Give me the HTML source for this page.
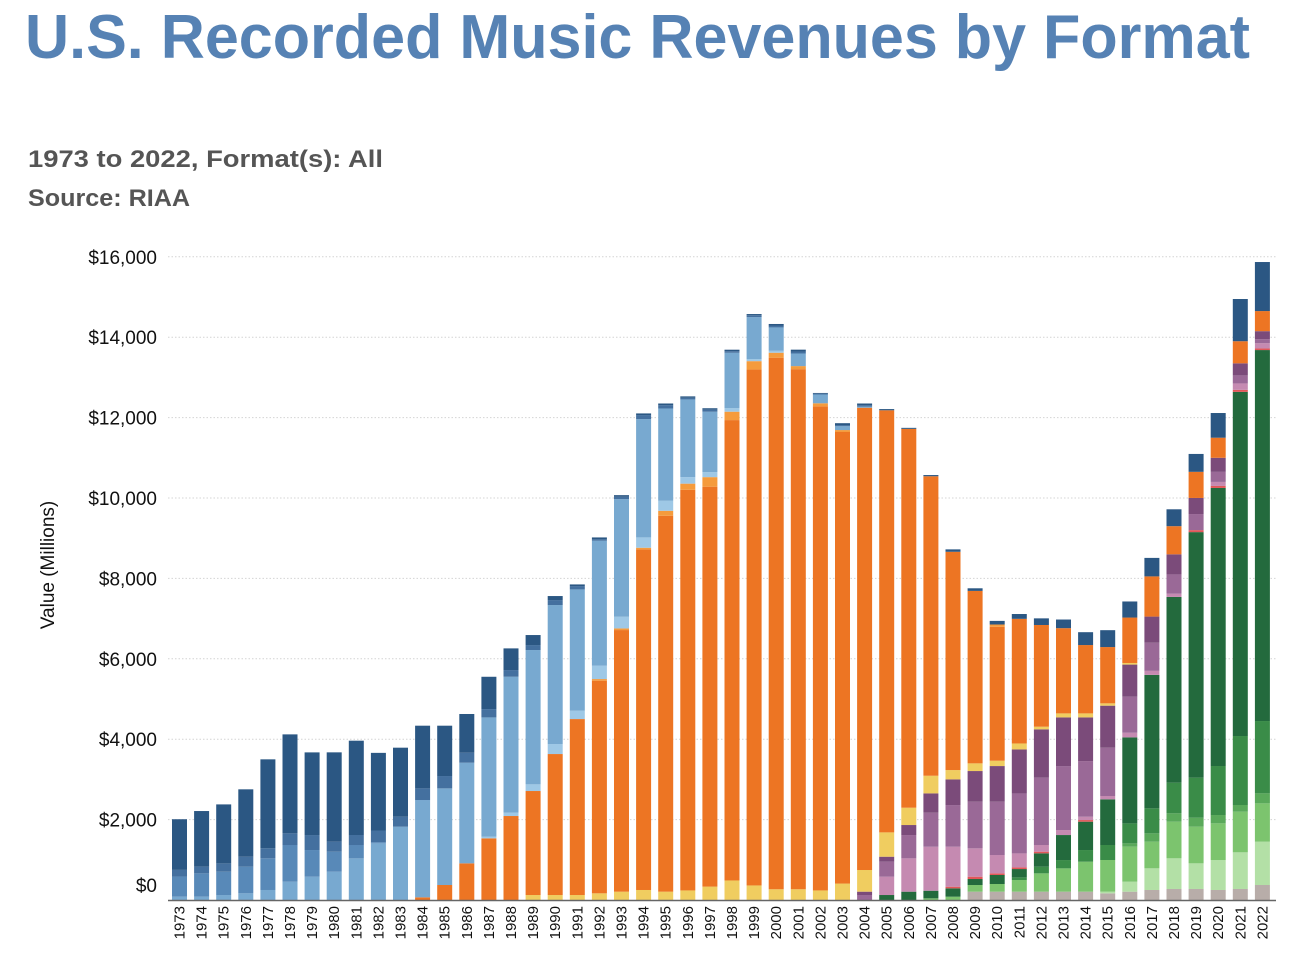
<!DOCTYPE html>
<html><head><meta charset="utf-8"><style>
html,body{margin:0;padding:0;background:#fff;width:1292px;height:961px;overflow:hidden}
svg{display:block;font-family:"Liberation Sans",sans-serif}
</style></head><body>
<svg id="chart" width="1292" height="961">
<text x="25" y="58" font-size="62" font-weight="bold" fill="#5682b4" textLength="1225" lengthAdjust="spacingAndGlyphs">U.S. Recorded Music Revenues by Format</text>
<text x="28" y="167" font-size="24" font-weight="bold" fill="#555" textLength="355" lengthAdjust="spacingAndGlyphs">1973 to 2022, Format(s): All</text>
<text x="28" y="206" font-size="24" font-weight="bold" fill="#555" textLength="162" lengthAdjust="spacingAndGlyphs">Source: RIAA</text>
<text transform="translate(54,565) rotate(-90)" text-anchor="middle" font-size="19" fill="#111">Value (Millions)</text>
<g id="grid"></g>
<g id="bars"></g>
<g id="xlabels"></g>
<line x1="168" x2="1276" y1="900.5" y2="900.5" stroke="#666" stroke-width="1.5"/>
</svg>
<script>
const years = [];
for (let y = 1973; y <= 2022; y++) years.push(y);
const yTicks = [0, 2000, 4000, 6000, 8000, 10000, 12000, 14000, 16000];
const yTickLabels = ["$0","$2,000","$4,000","$6,000","$8,000","$10,000","$12,000","$14,000","$16,000"];
// index 0 = 1973 ... index 49 = 2022
const synch = [0,0,0,0,0,0,0,0,0,0, 0,0,0,0,0,0,0,0,0,0, 0,0,0,0,0,0,0,0,0,0, 0,0,0,0,0,0,207,207,207,207, 207,207,166,207,249,274,274,249,274,373];
const soundExchange = [0,0,0,0,0,0,0,0,0,0, 0,0,0,0,0,0,0,0,0,0, 0,0,0,0,0,0,0,0,0,0, 0,0,0,0,0,0,0,0,0,0, 0,0,41,249,539,763,638,746,912,1078];
const adSupported = [0,0,0,0,0,0,0,0,0,0, 0,0,0,0,0,0,0,0,0,0, 0,0,0,0,0,0,0,0,0,0, 0,0,0,0,41,83,166,191,290,456, 580,746,788,870,663,912,912,912,1011,953];
const otherStreaming = [0,0,0,0,0,0,0,0,0,0, 0,0,0,0,0,0,0,0,0,0, 0,0,0,0,0,0,0,0,0,0, 0,0,0,0,0,0,0,0,0,0, 0,0,0,83,207,207,224,207,166,249];
const limitedTier = [0,0,0,0,0,0,0,0,0,0, 0,0,0,0,0,0,0,0,0,0, 0,0,0,0,0,0,0,0,0,0, 0,0,0,0,0,0,0,0,66,166, 207,290,373,497,622,763,995,1219,1716,1799];
const paidSubscription = [0,0,0,0,0,0,0,0,0,0, 0,0,0,0,0,0,0,0,0,0, 0,0,0,0,0,0,0,0,0,0, 0,0,124,207,190,207,149,224,207,332, 622,705,1136,2139,3320,4620,6108,6917,8561,9228];
const otherDigital = [0,0,0,0,0,0,0,0,0,0, 0,0,0,0,0,0,0,0,0,0, 0,0,0,0,0,0,0,0,0,0, 0,0,0,0,0,41,58,41,41,41, 0,41,0,0,0,0,50,50,50,40];
const ringtones = [0,0,0,0,0,0,0,0,0,0, 0,0,0,0,0,0,0,0,0,0, 0,0,0,0,0,0,0,0,0,0, 0,0,456,829,1094,995,705,456,348,166, 124,83,83,116,100,80,0,100,160,130];
const singleDownloads = [0,0,0,0,0,0,0,0,0,0, 0,0,0,0,0,0,0,0,0,0, 0,0,0,0,0,0,0,0,0,0, 0,124,373,580,846,1036,1160,1326,1492,1675, 1592,1384,1202,895,700,480,400,250,200,100];
const albumDownloads = [0,0,0,0,0,0,0,0,0,0, 0,0,0,0,0,0,0,0,0,0, 0,0,0,0,0,0,0,0,0,0, 0,83,124,249,481,638,763,887,1094,1202, 1210,1086,1045,800,650,500,400,350,300,200];
const musicVideo = [0,0,0,0,0,0,0,0,0,0, 0,0,0,0,0,0,124,124,124,166, 207,249,207,238,333,486,362,267,267,238, 409,539,605,431,439,232,191,133,149,66, 100,100,58,40,0,0,0,0,0,0];
const cd = [0,0,0,0,0,0,0,0,0,0, 0,66,373,912,1534,2089,2587,3507,4377,5289, 6508,8473,9351,9967,9948,11452,12833,13223,12938,12042, 11233,11500,10500,9424,7450,5430,4290,3330,3100,2530, 2120,1700,1400,1130,1000,700,650,500,550,500];
const cdSingle = [0,0,0,0,0,0,0,0,0,0, 0,0,0,0,0,0,0,0,0,41, 41,41,124,152,238,209,209,124,76,76, 48,0,0,0,0,0,0,58,0,0, 0,0,0,0,0,0,0,0,0,0];
const cassetteSingle = [0,0,0,0,0,0,0,0,0,0, 0,0,0,0,40,83,166,249,207,332, 290,257,249,162,124,86,48,48,0,0, 0,0,0,0,0,0,0,0,0,0, 0,0,0,0,0,0,0,0,0,0];
const cassette = [83,83,124,166,249,456,580,705,1036,1409, 1824,2421,2404,2504,2968,3382,3341,3457,3018,3109, 2926,2943,2296,1933,1504,1380,1047,581,314,219, 95,29,0,0,0,0,0,0,0,0, 0,0,0,0,0,0,0,0,0,0];
const eightTrack = [500,580,580,663,788,912,663,497,332,30, 0,0,0,0,0,0,0,0,0,0, 0,0,0,0,0,0,0,0,0,0, 0,0,0,0,0,0,0,0,0,0, 0,0,0,0,0,0,0,0,0,0];
const vinylSingle = [166,166,207,249,249,290,373,249,249,290, 249,290,307,249,207,166,124,124,83,41, 58,100,83,40,48,40,48,48,50,20, 30,30,0,0,0,0,0,0,0,0, 0,0,0,0,0,0,0,0,0,0];
const lpEp = [1260,1384,1467,1675,2213,2462,2056,2222,2346,1931, 1716,1559,1252,962,804,539,249,100,41,41, 41,41,41,36,38,36,29,38,45,18, 46,46,30,25,30,60,65,90,120,165, 215,320,420,400,460,420,445,614,1050,1220];

const seriesList = [synch,soundExchange,adSupported,otherStreaming,limitedTier,paidSubscription,otherDigital,ringtones,singleDownloads,albumDownloads,musicVideo,cd,cdSingle,cassetteSingle,cassette,eightTrack,vinylSingle,lpEp];
const seriesNames = ["synch","soundexchange","ad-supported","other-streaming","limited-tier","paid-subscription","other-digital","ringtones","single-downloads","album-downloads","music-video","cd","cd-single","cassette-single","cassette","eight-track","vinyl-single","lp-ep"];
const seriesColors = ["#b8ada9","#b3e0a6","#7cc46e","#5aa95a","#3a8c48","#236a3d","#e15759","#c58ab1","#9a6997","#7b4b7a","#f0cd60","#ed7523","#f59b3c","#9ec8e6","#78a9d0","#5889b8","#44709f","#2b5783"];

const NS = "http://www.w3.org/2000/svg";
const yScale = v => 900 - v * 0.0402;
const xScale = i => 172 + i * 22.1;
const barW = 15;

const grid = document.getElementById('grid');
yTicks.forEach((t, k) => {
  if (t > 0) {
    const l = document.createElementNS(NS, 'line');
    l.setAttribute('x1', 168); l.setAttribute('x2', 1276);
    l.setAttribute('y1', yScale(t)); l.setAttribute('y2', yScale(t));
    l.setAttribute('stroke', '#d4d4d4'); l.setAttribute('stroke-dasharray', '1.5,2');
    
    
    grid.appendChild(l);
  }
  const tx = document.createElementNS(NS, 'text');
  tx.setAttribute('x', 157);
  tx.setAttribute('y', t === 0 ? 892 : yScale(t) + 7);
  tx.setAttribute('text-anchor', 'end'); tx.setAttribute('font-size', '19'); tx.setAttribute('fill', '#111');
  tx.textContent = yTickLabels[k];
  
  
  grid.appendChild(tx);
});

const bars = document.getElementById('bars');
const xl = document.getElementById('xlabels');
years.forEach((yr, i) => {
  let acc = 0;
  seriesList.forEach((s, si) => {
    const v = s[i] || 0;
    if (v > 0) {
      const r = document.createElementNS(NS, 'rect');
      r.setAttribute('x', xScale(i));
      r.setAttribute('width', barW);
      r.setAttribute('y', yScale(acc + v));
      r.setAttribute('height', yScale(acc) - yScale(acc + v));
      r.setAttribute('fill', seriesColors[si]);
      
      
      bars.appendChild(r);
    }
    acc += v;
  });
  const t = document.createElementNS(NS, 'text');
  t.setAttribute('transform', 'translate(' + (xScale(i) + barW / 2 + 5) + ',906) rotate(-90)');
  t.setAttribute('text-anchor', 'end'); t.setAttribute('font-size', '15'); t.setAttribute('fill', '#111');
  t.textContent = yr;
  
  
  xl.appendChild(t);
});
</script>
</body></html>
